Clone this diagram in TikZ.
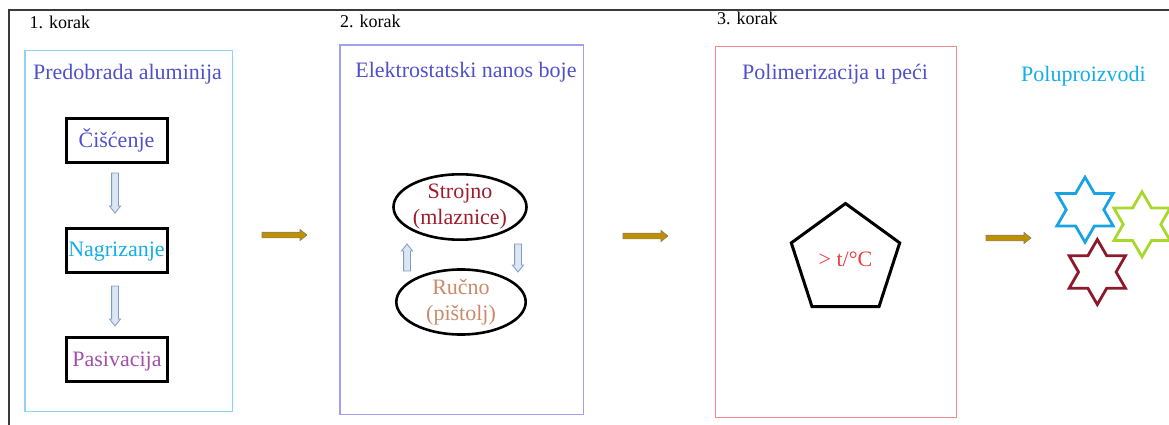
\documentclass[tikz,border=0pt]{standalone}
\usepackage{fontspec}
\setmainfont{Liberation Serif}
\newfontfamily\tnr{Liberation Serif}
\usetikzlibrary{shapes.geometric,calc}
\definecolor{frameclr}{HTML}{3A3A3A}
\definecolor{boxa}{HTML}{8ED4F2}
\definecolor{boxb}{HTML}{A0A0EE}
\definecolor{boxc}{HTML}{F08A8E}
\definecolor{ttlclr}{HTML}{5050CC}
\definecolor{cyanclr}{HTML}{14AEE6}
\definecolor{purpclr}{HTML}{A24FAA}
\definecolor{darkred}{HTML}{A01C2C}
\definecolor{tanclr}{HTML}{C98A6A}
\definecolor{redclr}{HTML}{F03C3C}
\definecolor{arrfill}{HTML}{DCE6F2}
\definecolor{arrborder}{HTML}{7F9CC9}
\definecolor{goldclr}{HTML}{BF9000}
\definecolor{goldborder}{HTML}{8A7E66}
\definecolor{starblue}{HTML}{1AA3E2}
\definecolor{stargreen}{HTML}{A8D82A}
\definecolor{starred}{HTML}{8C1A2A}
\begin{document}
\begin{tikzpicture}[x=1pt,y=-1pt,
  korak/.style={anchor=base west, inner sep=0, font=\tnr\fontsize{18}{20}\selectfont},
  ttl/.style={anchor=base, inner sep=0, font=\tnr\fontsize{22}{26}\selectfont},
  stepframe/.style={draw, line width=1.4pt, inner sep=0},
  procbox/.style={draw=black, line width=3pt, minimum width=101pt, minimum height=44pt, inner sep=0,
    font=\tnr\fontsize{22}{26}\selectfont, text height=14pt, text depth=1pt},
  oval/.style={draw=black, ellipse, line width=2.6pt, minimum width=129.4pt, inner sep=0,
    align=center, font=\tnr\fontsize{22}{26}\selectfont},
  pics/hollowarr/.style={code={\draw[draw=arrborder, fill=arrfill, line width=0.8pt]
    (0,-3.4) -- ({#1-7},-3.4) -- ({#1-7},-5.6) -- (#1,0) -- ({#1-7},5.6) -- ({#1-7},3.4) -- (0,3.4) -- cycle;}},
  pics/goldarr/.style={code={\draw[draw=goldborder, fill=goldclr, line width=0.6pt]
    (0,-2.8) -- (38,-2.8) -- (38,-5.6) -- (45,0) -- (38,5.6) -- (38,2.8) -- (0,2.8) -- cycle;}},
  pics/hexstar/.style={code={\draw[draw=#1, line width=2.8pt, line join=miter]
    (90:32.5) \foreach \i in {1,...,11} {-- ({90+30*\i}:{ifthenelse(mod(\i,2)==0,32.5,18.8)})} -- cycle;}}
]
\useasboundingbox (0,0) rectangle (1169,425);
% outer frame
\draw[frameclr, line width=2pt] (8.5,426) -- (8.5,10) -- (1170,10);

% step labels
\node[korak] (k1) at (29.5,29) {1. korak};
\node[korak] (k2) at (340,28) {2. korak};
\node[korak] (k3) at (717,25) {3. korak};

% step 1
\node[stepframe, draw=boxa, minimum width=207.6pt, minimum height=360.6pt] (f1) at (128.8,231) {};
\node[ttl, text=ttlclr] (t1) at (127.5,80) {Predobrada aluminija};
\node[procbox, text=ttlclr] (c1) at (116.5,140.5) {Čišćenje};
\node[procbox, text=cyanclr] (c2) at (116.5,250) {Nagrizanje};
\node[procbox, text=purpclr] (c3) at (117,359.5) {Pasivacija};
\pic at (115,173) [rotate=-90] {hollowarr=40};
\pic at (115,286) [rotate=-90] {hollowarr=40};

% arrow 1 -> 2
\pic at (262,235) {goldarr};

% step 2
\node[stepframe, draw=boxb, minimum width=243.6pt, minimum height=369.3pt] (f2) at (461.8,229.6) {};
\node[ttl, text=ttlclr] (t2) at (466,78) {Elektrostatski nanos boje};
\node[oval, minimum height=65.4pt, text=darkred] (e1) at (460,207) {Strojno\\(mlaznice)};
\node[oval, minimum height=59.4pt, text=tanclr] (e2) at (461,302) {Ručno\\(pištolj)};
\pic at (407,271) [rotate=90] {hollowarr=27};
\pic at (518,244) [rotate=-90] {hollowarr=28};

% arrow 2 -> 3
\pic at (623,236) {goldarr};

% step 3
\node[stepframe, draw=boxc, minimum width=240.6pt, minimum height=370.6pt] (f3) at (836,232) {};
\node[ttl, text=ttlclr] (t3) at (835,80) {Polimerizacija u peći};
\node[draw=black, regular polygon, regular polygon sides=5, minimum size=114pt, line width=3pt, inner sep=0,
  text=redclr, font=\tnr\fontsize{22}{26}\selectfont, text height=13.5pt, text depth=1.3pt] (p) at (845.5,260.5) {> t/°C};

% arrow 3 -> products
\pic at (986,238) {goldarr};

% products
\node[ttl, text=cyanclr] (t4) at (1083.5,82) {Poluproizvodi};
\pic at (1085,209.7) {hexstar=starblue};
\pic at (1142,224.3) {hexstar=stargreen};
\pic at (1097.3,272) {hexstar=starred};
\end{tikzpicture}
\end{document}
